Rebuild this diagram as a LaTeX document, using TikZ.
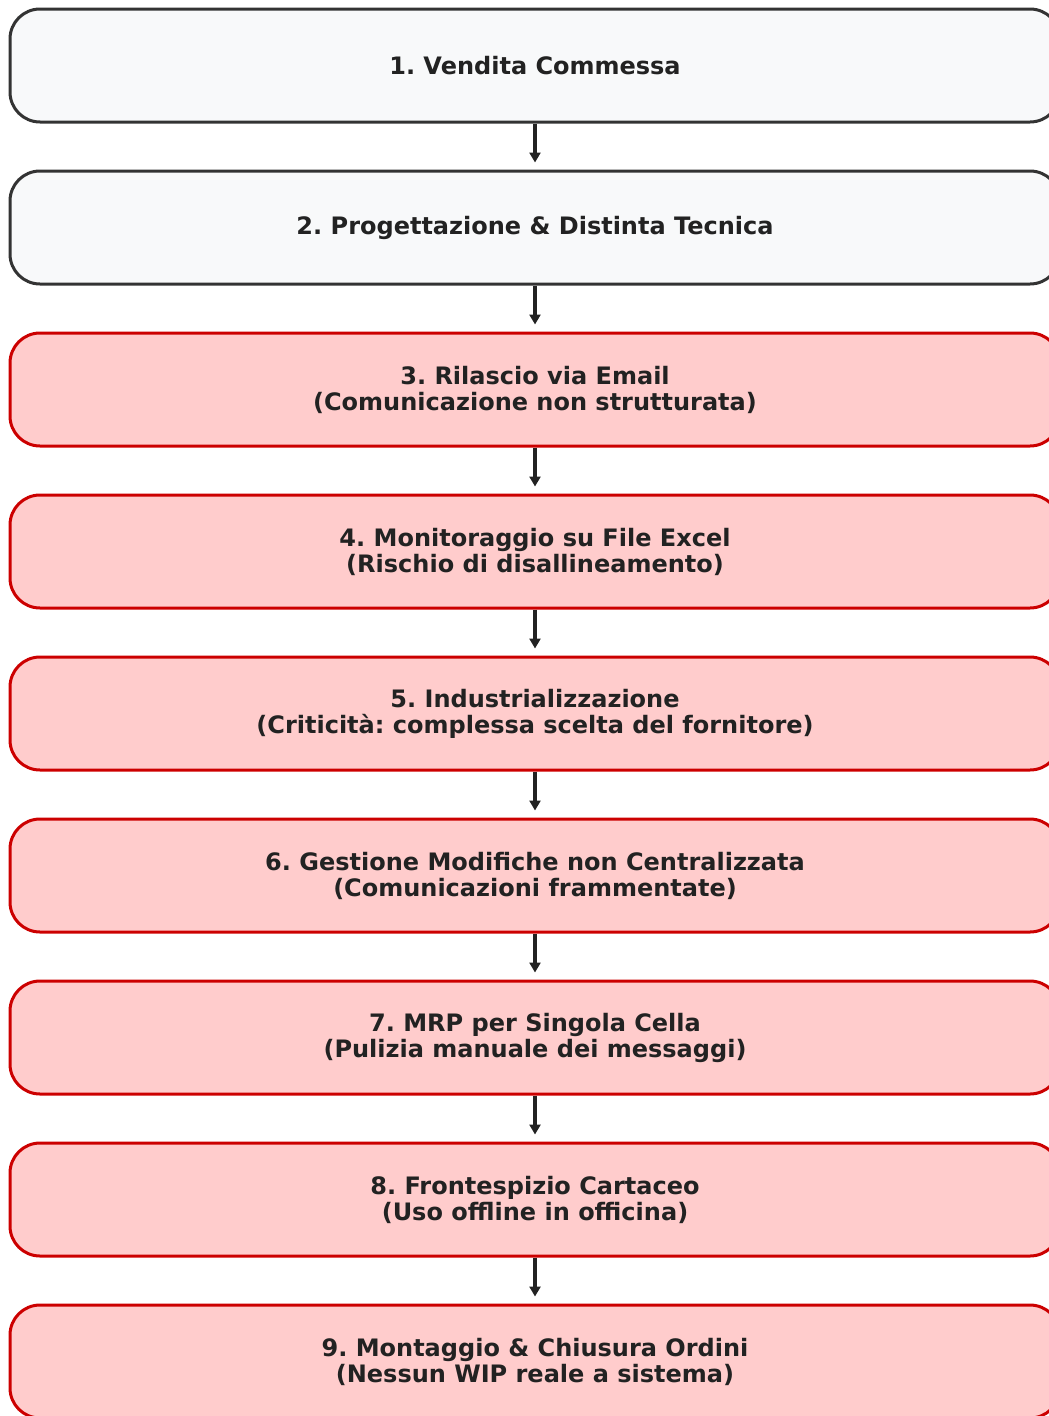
\documentclass[tikz,border=0pt]{standalone}
\usepackage{fontspec}
\setmainfont{DejaVu Sans}
\frenchspacing
\usetikzlibrary{arrows.meta, positioning}
\definecolor{cdark}{HTML}{333333}
\definecolor{ctext}{HTML}{222222}
\definecolor{cpale}{HTML}{F8F9FA}
\definecolor{cred}{HTML}{CC0000}
\definecolor{cpink}{HTML}{FFCCCC}
\tikzset{
  every picture/.style={line width=3pt},
  stage/.style={draw=#1, rounded corners=30pt, minimum width=1050pt, minimum height=113pt, align=center, font=\bfseries\fontsize{24}{26}\selectfont, text=ctext},
  plain/.style={stage=cdark, fill=cpale},
  issue/.style={stage=cred, fill=cpink},
  arrow/.style={-{Triangle[length=10pt, width=11pt]}, draw=ctext, line width=3.5pt, shorten >=7pt},
}

\begin{document}
\begin{tikzpicture}[x=1pt, y=1pt, node distance=46pt]
  \useasboundingbox (0,0) rectangle (1049,-1416);
  % flow of the order
  \node[plain] (s1) at (535,-65.5) {1. Vendita Commessa};
  \node[plain, below=of s1] (s2) {2. Progettazione \& Distinta Tecnica};
  \node[issue, below=of s2] (s3) {3. Rilascio via Email\\(Comunicazione non strutturata)};
  \node[issue, below=of s3] (s4) {4. Monitoraggio su File Excel\\(Rischio di disallineamento)};
  \node[issue, below=of s4] (s5) {5. Industrializzazione\\(Criticità: complessa scelta del fornitore)};
  \node[issue, below=of s5] (s6) {6. Gestione Modifiche non Centralizzata\\(Comunicazioni frammentate)};
  \node[issue, below=of s6] (s7) {7. MRP per Singola Cella\\(Pulizia manuale dei messaggi)};
  \node[issue, below=of s7] (s8) {8. Frontespizio Cartaceo\\(Uso offline in officina)};
  \node[issue, below=of s8] (s9) {9. Montaggio \& Chiusura Ordini\\(Nessun WIP reale a sistema)};
  % arrows
  \foreach \a/\b in {s1/s2, s2/s3, s3/s4, s4/s5, s5/s6, s6/s7, s7/s8, s8/s9}
    \draw[arrow] (\a) -- (\b);
\end{tikzpicture}
\end{document}
